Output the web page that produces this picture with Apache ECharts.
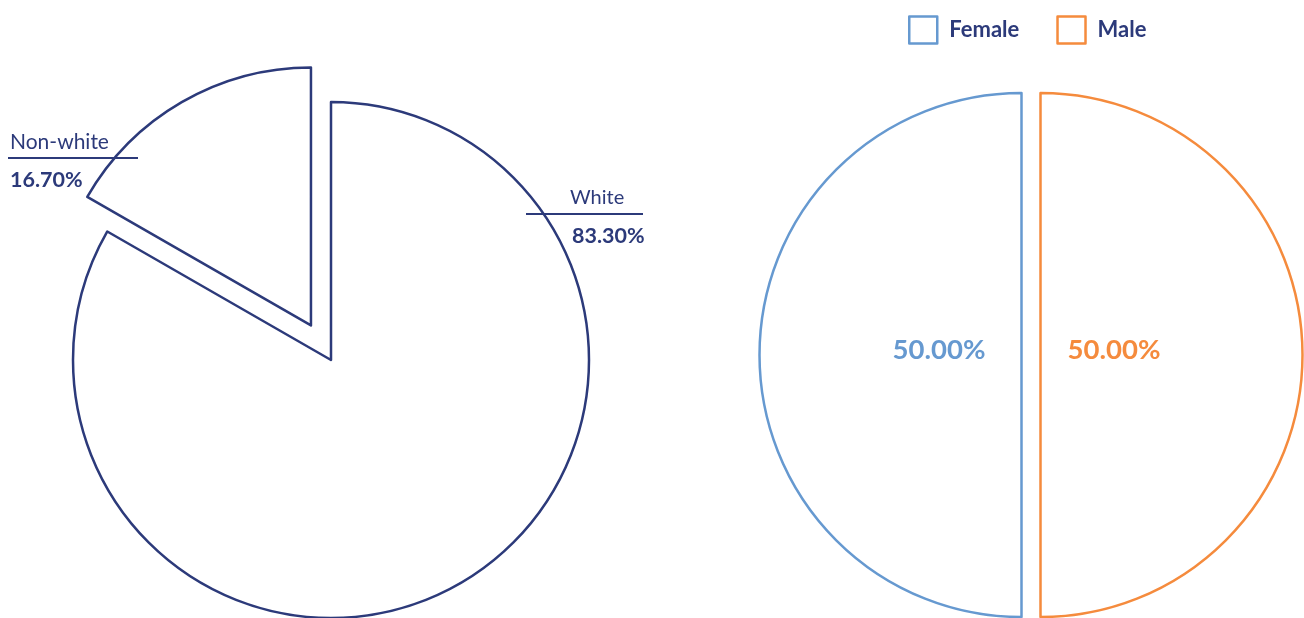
<!DOCTYPE html>
<html>
<head>
<meta charset="utf-8">
<script src="https://cdn.jsdelivr.net/npm/echarts@6/dist/echarts.min.js"></script>
<style>
  html, body { margin: 0; padding: 0; background: #fff; }
  #chart { width: 1304px; height: 618px; }
</style>
</head>
<body>
<div id="chart"></div>
<script>
  const raceNames = ['White', 'Non-white'];
  const raceValues = [83.3, 16.7];
  const genderNames = ['Female', 'Male'];
  const genderValues = [50, 50];

  const navy = '#2c3a7a';
  const blue = '#6699d0';
  const orange = '#f58b3d';
  const font = 'Lato, "Noto Sans", sans-serif';

  const chart = echarts.init(document.getElementById('chart'));

  // exploded slice: shift its own series centre along the slice's mid angle
  const raceCenter = [331, 360];
  const raceExplode = 40;
  const raceTotal = raceValues[0] + raceValues[1];
  const midDeg = 90 + 360 * (raceValues[1] / raceTotal) / 2;
  const nwCenter = [
    raceCenter[0] + raceExplode * Math.cos(midDeg * Math.PI / 180),
    raceCenter[1] - raceExplode * Math.sin(midDeg * Math.PI / 180)
  ];

  const raceLabelPos = [
    { x: 526, y: 183, rule: 117, pad: [44, 46], size: 20 },
    { x: 8, y: 127, rule: 130, pad: [2, 2], size: 21 }
  ];

  function raceLabel(i) {
    return {
      show: true,
      formatter: p => '{n|' + p.name + '}\n{r| }\n{v|' + p.value.toFixed(2) + '%}',
      rich: {
        n: { fontSize: raceLabelPos[i].size, color: navy, fontFamily: font, lineHeight: 30, padding: [0, 0, 0, raceLabelPos[i].pad[0]] },
        r: { width: raceLabelPos[i].rule, height: 2, lineHeight: 2, fontSize: 1, backgroundColor: navy },
        v: { fontSize: 21.5, fontWeight: 'bold', color: navy, fontFamily: font, lineHeight: 43, padding: [0, 0, 0, raceLabelPos[i].pad[1]] }
      }
    };
  }

  // each visible slice lives in its own series, the other slice kept as an invisible placeholder
  function raceSeries(visibleIndex, center) {
    return {
      type: 'pie',
      center: center,
      radius: 258,
      startAngle: 90,
      clockwise: true,
      avoidLabelOverlap: false,
      emphasis: { disabled: true },
      labelLine: { show: false },
      labelLayout: p => p.dataIndex === visibleIndex ? {
        x: raceLabelPos[visibleIndex].x,
        y: raceLabelPos[visibleIndex].y,
        align: 'left',
        verticalAlign: 'top'
      } : {},
      data: raceNames.map((name, i) => ({
        name: name,
        value: raceValues[i],
        itemStyle: i === visibleIndex
          ? { color: '#fff', borderColor: navy, borderWidth: 2.5 }
          : { color: 'rgba(0,0,0,0)', borderWidth: 0 },
        label: i === visibleIndex ? raceLabel(i) : { show: false }
      }))
    };
  }

  const genderColors = [blue, orange];
  const genderCenter = [1031, 355];
  const genderGap = 9.5;
  const genderLabelX = [939, 1114];

  function genderSeries(visibleIndex) {
    const dx = visibleIndex === 0 ? -genderGap : genderGap;
    return {
      type: 'pie',
      center: [genderCenter[0] + dx, genderCenter[1]],
      radius: 262,
      startAngle: 90,
      clockwise: false,
      avoidLabelOverlap: false,
      emphasis: { disabled: true },
      labelLine: { show: false },
      labelLayout: p => p.dataIndex === visibleIndex ? {
        x: genderLabelX[visibleIndex],
        y: 350,
        align: 'center',
        verticalAlign: 'middle'
      } : {},
      data: genderNames.map((name, i) => ({
        name: name,
        value: genderValues[i],
        itemStyle: i === visibleIndex
          ? { color: '#fff', borderColor: genderColors[i], borderWidth: 2.5 }
          : { color: 'rgba(0,0,0,0)', borderWidth: 0 },
        label: i === visibleIndex ? {
          show: true,
          position: 'inside',
          formatter: p => p.value.toFixed(2) + '%',
          color: genderColors[i],
          fontSize: 27.5,
          fontWeight: 'bold',
          fontFamily: font
        } : { show: false }
      }))
    };
  }

  chart.setOption({
    animation: false,
    legend: {
      data: genderNames.map((name, i) => ({
        name: name,
        icon: 'rect',
        itemStyle: { color: '#fff', borderColor: genderColors[i], borderWidth: 2.5 }
      })),
      left: 908,
      top: 14,
      padding: 0,
      itemWidth: 28,
      itemHeight: 27,
      itemGap: 37,
      textStyle: { color: navy, fontSize: 22, fontWeight: 'bold', fontFamily: font, padding: [0, 0, 0, 7], lineHeight: 32, verticalAlign: 'middle' },
      selectedMode: false
    },
    series: [
      raceSeries(0, raceCenter),
      raceSeries(1, nwCenter),
      genderSeries(0),
      genderSeries(1)
    ]
  });
  window.addEventListener('resize', () => chart.resize());
</script>
</body>
</html>
